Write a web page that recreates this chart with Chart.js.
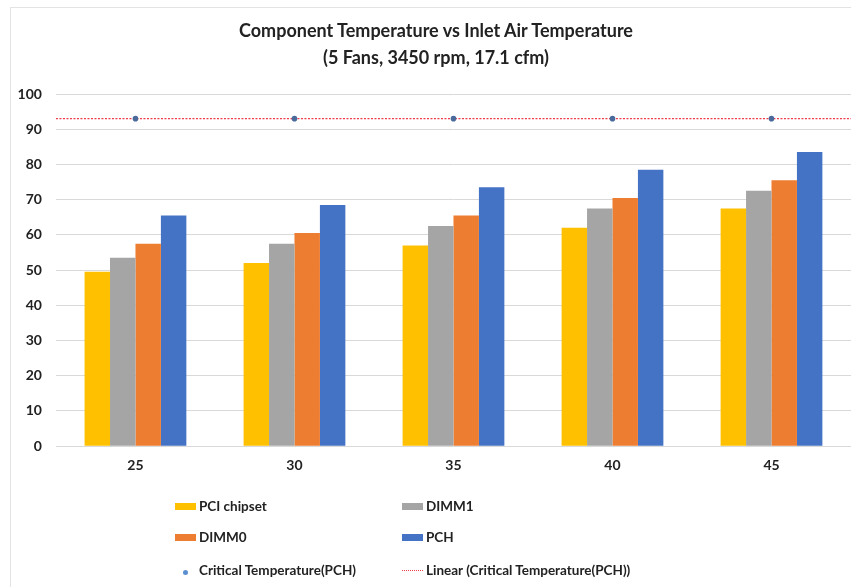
<!DOCTYPE html>
<html>
<head>
<meta charset="utf-8">
<script src="https://cdn.jsdelivr.net/npm/chart.js@4.4.1/dist/chart.umd.min.js"></script>
<style>
  html, body { margin: 0; padding: 0; background: #fff; overflow: hidden; }
  #wrap { position: relative; width: 851px; height: 587px; overflow: hidden; }
  #frame { position: absolute; left: 10px; top: 7px; width: 900px; height: 600px; border: 1px solid #e3e3e3; }
  #chart { position: absolute; left: 0; top: 0; }
  #title { position: absolute; left: 236px; width: 400px; top: 17px; text-align: center; font: bold 18px Lato, sans-serif; line-height: 27px; color: #222; white-space: nowrap; }
  .lg { position: absolute; display: flex; align-items: center; font: bold 13.5px Lato, sans-serif; color: #222; white-space: nowrap; }
  .sw { display: inline-block; width: 21px; height: 7px; margin-right: 3px; }
</style>
</head>
<body>
<div id="wrap">
  <div id="frame"></div>
  <canvas id="chart" width="851" height="587"></canvas>
  <div id="title">Component Temperature vs Inlet Air Temperature<br>(5 Fans, 3450 rpm, 17.1 cfm)</div>
  <div id="legend"></div>
</div>
<script>
const inletTemps = ['25', '30', '35', '40', '45'];
const pciChipset = [49.5, 52, 57, 62, 67.5];
const dimm1 = [53.5, 57.5, 62.5, 67.5, 72.5];
const dimm0 = [57.5, 60.5, 65.5, 70.5, 75.5];
const pch = [65.5, 68.5, 73.5, 78.5, 83.5];
const criticalPch = [93, 93, 93, 93, 93];
const yTicks = [0, 10, 20, 30, 40, 50, 60, 70, 80, 90, 100];

const FONT = 'Lato, sans-serif';
const TEXT = '#222';

// least-squares fit of the critical temperature points, drawn edge to edge like Excel's trendline
const trendline = {
  id: 'trendline',
  beforeDatasetsDraw(chart) {
    const { ctx, chartArea, scales } = chart;
    const n = criticalPch.length;
    const mx = (n - 1) / 2;
    const my = criticalPch.reduce((a, b) => a + b, 0) / n;
    let sxy = 0, sxx = 0;
    criticalPch.forEach((v, i) => { sxy += (i - mx) * (v - my); sxx += (i - mx) * (i - mx); });
    const slope = sxx ? sxy / sxx : 0;
    const x0 = scales.x.getPixelForValue(0);
    const step = scales.x.getPixelForValue(1) - x0;
    const yAt = (px) => scales.y.getPixelForValue(my + slope * ((px - x0) / step - mx));
    ctx.save();
    ctx.strokeStyle = '#ee3b4a';
    ctx.lineWidth = 1.2;
    ctx.setLineDash([2, 1.5]);
    ctx.beginPath();
    ctx.moveTo(chartArea.left, yAt(chartArea.left));
    ctx.lineTo(chartArea.right, yAt(chartArea.right));
    ctx.stroke();
    ctx.restore();
  },
};

const chart = new Chart(document.getElementById('chart'), {
  type: 'bar',
  data: {
    labels: inletTemps,
    datasets: [
      { label: 'PCI chipset', data: pciChipset, backgroundColor: '#ffc000' },
      { label: 'DIMM1', data: dimm1, backgroundColor: '#a5a5a5' },
      { label: 'DIMM0', data: dimm0, backgroundColor: '#ed7d31' },
      { label: 'PCH', data: pch, backgroundColor: '#4472c4' },
      {
        type: 'line',
        label: 'Critical Temperature(PCH)',
        data: criticalPch,
        showLine: false,
        pointRadius: 2.8,
        pointBackgroundColor: '#4a6a9c',
        pointBorderWidth: 0,
      },
    ],
  },
  options: {
    responsive: false,
    animation: false,
    categoryPercentage: 0.64,
    barPercentage: 1.0,
    layout: { autoPadding: false, padding: { left: 3.6, right: 0, top: 94, bottom: 110 } },
    plugins: {
      legend: { display: false },
      tooltip: { enabled: false },
      title: { display: false },
    },
    scales: {
      x: {
        grid: { display: false },
        border: { display: false },
        ticks: { color: TEXT, font: { family: FONT, size: 14, weight: 'bold' }, padding: 3 },
      },
      y: {
        min: 0,
        max: 100,
        afterBuildTicks: (axis) => { axis.ticks = yTicks.map((v) => ({ value: v })); },
        grid: { color: '#d9d9d9', drawTicks: false },
        border: { display: false },
        ticks: { color: TEXT, font: { family: FONT, size: 14, weight: 'bold' }, padding: 14 },
      },
    },
  },
  plugins: [trendline],
});

// two-column legend like the Excel original
const legendSpots = [
  { left: 175, top: 506 }, { left: 402, top: 506 },
  { left: 175, top: 537 }, { left: 402, top: 537 },
  { left: 175, top: 570 }, { left: 402, top: 570 },
];
const legendItems = chart.data.datasets.slice(0, 4).map((d) => ({ text: d.label, kind: 'box', color: d.backgroundColor }));
legendItems.push({ text: chart.data.datasets[4].label, kind: 'dot', color: '#5b8fd0' });
legendItems.push({ text: 'Linear (Critical Temperature(PCH))', kind: 'dash', color: '#ee3b4a' });
const legendEl = document.getElementById('legend');
legendItems.forEach((item, i) => {
  const el = document.createElement('div');
  el.className = 'lg';
  el.style.left = legendSpots[i].left + 'px';
  el.style.top = (legendSpots[i].top - 10) + 'px';
  el.style.height = '20px';
  let sw;
  if (item.kind === 'box') {
    sw = `<span class="sw" style="background:${item.color}"></span>`;
  } else if (item.kind === 'dot') {
    sw = `<span style="display:inline-block;width:21px;text-align:center;margin-right:3px"><span style="display:inline-block;width:5px;height:5px;border-radius:50%;background:${item.color}"></span></span>`;
  } else {
    sw = `<span style="display:inline-block;width:21px;border-top:1px dotted ${item.color};margin-right:3px"></span>`;
  }
  el.innerHTML = sw + `<span>${item.text}</span>`;
  legendEl.appendChild(el);
});
</script>
</body>
</html>
